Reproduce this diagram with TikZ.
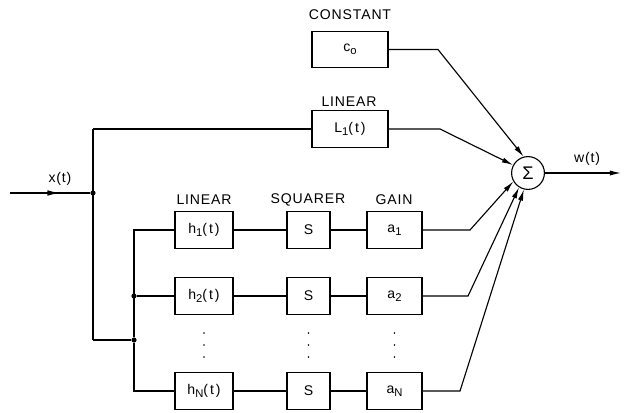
\documentclass[tikz,border=0pt]{standalone}
\usepackage{fontspec}
\setmainfont{Liberation Sans}[LetterSpace=6]
\usetikzlibrary{arrows.meta,decorations.markings}
% subscript set a little larger than the default
\newcommand{\lsub}[1]{\raisebox{-0.45ex}{\fontsize{8}{8}\selectfont #1}}
\begin{document}
\begin{tikzpicture}[x=0.25mm,y=-0.25mm,
  line width=0.8pt,
  font=\fontsize{10}{12}\selectfont,
  blk/.style={draw,inner sep=0pt,minimum height=9.2mm,
    font=\fontsize{10}{12}\selectfont\addfontfeatures{LetterSpace=14}},
  cblk/.style={blk,minimum width=19mm},
  hblk/.style={blk,minimum width=14.5mm},
  sblk/.style={blk,minimum width=10.75mm},
  gblk/.style={blk,minimum width=13.75mm},
  lbl/.style={inner sep=0pt},
  tip/.style={-{Latex[length=2.8mm,width=1.3mm]}},
  midarrow/.style={postaction={decorate},decoration={markings,
      mark=at position 0.62 with {\arrow{Latex[length=3mm,width=1.4mm]}}}},
  junction/.style={circle,fill,inner sep=0pt,minimum size=1.3mm},
  sum/.style={circle,draw,inner sep=0pt,minimum size=8.2mm}]
\useasboundingbox (0,0) rectangle (625,412);

% constant and linear paths
\node[lbl] (tcon) at (350,15) {CONSTANT};
\node[cblk] (c0) at (350,49.5) {c\lsub{o}};
\node[lbl] (tlin) at (349,102) {LINEAR};
\node[cblk] (L1) at (350,129) {L\lsub{1}(t)};

% summing junction
\node[sum] (sig) at (528,173) {\fontsize{13}{13}\selectfont Σ};

% column headings of the quadratic branches
\node[lbl] (th) at (204,200) {LINEAR};
\node[lbl] (ts) at (308,200) {SQUARER};
\node[lbl] (tg) at (394,200) {GAIN};

% quadratic branches
\node[hblk] (h1) at (204,230) {h\lsub{1}(t)};
\node[hblk] (h2) at (204,296) {h\lsub{2}(t)};
\node[hblk] (hN) at (204,391) {h\lsub{N}(t)};
\node[sblk] (s1) at (308.5,230) {S};
\node[sblk] (s2) at (308.5,296) {S};
\node[sblk] (sN) at (308.5,391) {S};
\node[gblk] (a1) at (394.5,230) {a\lsub{1}};
\node[gblk] (a2) at (394.5,296) {a\lsub{2}};
\node[gblk] (aN) at (394.5,391) {a\lsub{N}};

% omitted branches
\foreach \x in {204,308.5,394.5}
  \foreach \y in {333,345,357}
    \fill (\x,\y) circle (0.9);

% input and signal distribution
\coordinate (in) at (10,193);
\node[junction] (j) at (93,193) {};
\node[lbl,above] (tx) at (60,186) {x(t)};
\coordinate (top) at (93,129);
\coordinate (bot) at (93,340);
\node[junction] (b) at (134,340) {};
\node[junction] (b2) at (134,296) {};

\draw[midarrow] (in) -- (j);
\draw (top) -- (bot);
\draw (top) -- (L1.west);
\draw (bot) -- (b);
\draw (b) |- (h1.west);
\draw (b) |- (hN.west);
\draw (b2) -- (h2.west);

\draw (h1) -- (s1);  \draw (s1) -- (a1);
\draw (h2) -- (s2);  \draw (s2) -- (a2);
\draw (hN) -- (sN);  \draw (sN) -- (aN);

% connections into the summer
\coordinate (kc) at (438,49.5);
\coordinate (kl) at (440,129);
\coordinate (k1) at (470,230);
\coordinate (k2) at (468,296);
\coordinate (kN) at (460,391);
\draw[tip] (c0.east) -- (kc) -- (sig.105);
\draw[tip] (L1.east) -- (kl) -- (sig.152);
\draw[tip] (a1.east) -- (k1) -- (sig.210);
\draw[tip] (a2.east) -- (k2) -- (sig.238);
\draw[tip] (aN.east) -- (kN) -- (sig.256);

% output
\coordinate (out) at (621,173);
\node[lbl,above] (tw) at (587,166) {w(t)};
\draw[tip] (sig) -- (out);
\end{tikzpicture}
\end{document}
